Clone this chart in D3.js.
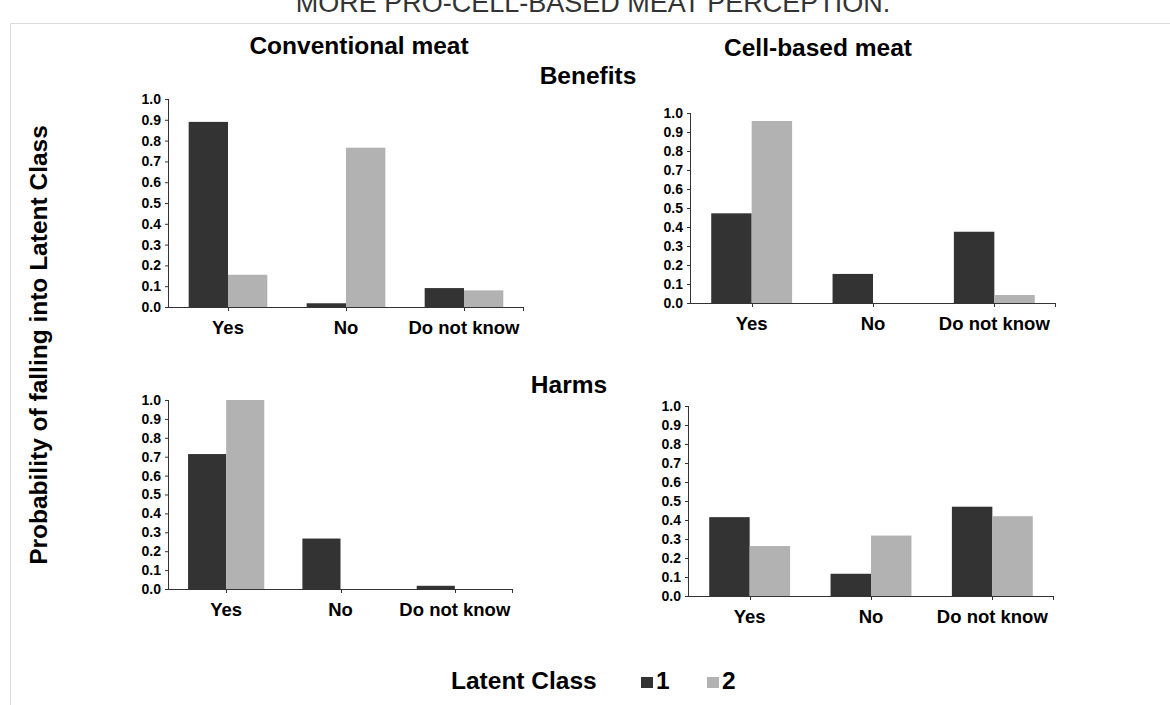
<!DOCTYPE html>
<html lang="en">
<head>
    <meta charset="UTF-8">
    <title>Latent class probabilities</title>
    <script src="https://d3js.org/d3.v7.min.js"></script>
    <style>
        body { margin: 0; background: #fff; }
        svg text { font-family: "Liberation Sans", Arial, sans-serif; }
    </style>
</head>
<body>
    <div id="chart-container"></div>

    <script>
        // data
        const categories = ["Yes", "No", "Do not know"];
        const classes = ["1", "2"];
        const yTicks = [0, 0.1, 0.2, 0.3, 0.4, 0.5, 0.6, 0.7, 0.8, 0.9, 1.0];

        const convBenefits1 = [0.89, 0.018, 0.091];
        const convBenefits2 = [0.155, 0.766, 0.08];
        const cellBenefits1 = [0.472, 0.153, 0.375];
        const cellBenefits2 = [0.958, 0, 0.042];
        const convHarms1 = [0.714, 0.267, 0.017];
        const convHarms2 = [1.0, 0, 0];
        const cellHarms1 = [0.415, 0.117, 0.47];
        const cellHarms2 = [0.263, 0.318, 0.42];

        const colors = { "1": "#333333", "2": "#b2b2b2" };

        const svg = d3.select("#chart-container")
            .append("svg")
            .attr("width", 1170)
            .attr("height", 705);

        // light frame
        svg.append("path")
            .attr("d", "M10.5,705 V23.5 H1170")
            .attr("fill", "none")
            .attr("stroke", "#dcdcdc");

        // caption, cut off at the top as in the source image
        svg.append("text")
            .attr("x", 593).attr("y", 12)
            .attr("text-anchor", "middle")
            .style("font-size", "27px")
            .style("fill", "#333")
            .text("MORE PRO-CELL-BASED MEAT PERCEPTION.");

        const titles = [
            { t: "Conventional meat", x: 359, y: 54 },
            { t: "Cell-based meat", x: 818, y: 56 },
            { t: "Benefits", x: 588, y: 84 },
            { t: "Harms", x: 569, y: 393 }
        ];
        titles.forEach(d => {
            svg.append("text")
                .attr("x", d.x).attr("y", d.y)
                .attr("text-anchor", "middle")
                .style("font-size", "24.5px")
                .style("font-weight", "bold")
                .style("fill", "#000")
                .text(d.t);
        });

        svg.append("text")
            .attr("transform", "translate(47,345) rotate(-90)")
            .attr("text-anchor", "middle")
            .style("font-size", "24.5px")
            .style("font-weight", "bold")
            .text("Probability of falling into Latent Class");

        const panels = [
            { s1: convBenefits1, s2: convBenefits2, x0: 169, x1: 523, top: 99, bottom: 307 },
            { s1: cellBenefits1, s2: cellBenefits2, x0: 691, x1: 1055, top: 113, bottom: 303 },
            { s1: convHarms1, s2: convHarms2, x0: 169, x1: 512, top: 400, bottom: 589 },
            { s1: cellHarms1, s2: cellHarms2, x0: 689, x1: 1053, top: 406, bottom: 596 }
        ];

        panels.forEach(drawPanel);

        function drawPanel(p) {
            const g = svg.append("g");

            const x = d3.scaleBand()
                .domain(categories)
                .range([p.x0, p.x1])
                .paddingInner(1 / 3)
                .paddingOuter(1 / 6);

            const xSub = d3.scaleBand()
                .domain(classes)
                .range([0, x.bandwidth()]);

            const y = d3.scaleLinear()
                .domain([0, 1])
                .range([p.bottom, p.top]);

            const rows = categories.map((c, i) => ({ cat: c, v: { "1": p.s1[i], "2": p.s2[i] } }));

            g.selectAll(".grp")
                .data(rows)
                .enter()
                .append("g")
                .attr("transform", d => `translate(${x(d.cat)},0)`)
                .selectAll("rect")
                .data(d => classes.map(k => ({ k: k, v: d.v[k] })))
                .enter()
                .append("rect")
                .attr("x", d => xSub(d.k))
                .attr("width", xSub.bandwidth())
                .attr("y", d => y(d.v))
                .attr("height", d => y(0) - y(d.v))
                .style("fill", d => colors[d.k]);

            // y axis
            const yAxis = g.append("g")
                .attr("transform", `translate(${p.x0},0)`)
                .call(d3.axisLeft(y).tickValues(yTicks).tickFormat(d3.format(".1f")).tickSize(4).tickPadding(4));
            yAxis.select(".domain").attr("d", `M-0.5,${p.top}V${p.bottom}`).attr("stroke", "#333");
            yAxis.selectAll(".tick line").attr("stroke", "#333");
            yAxis.selectAll("text")
                .style("font-size", "14px")
                .style("font-weight", "bold")
                .style("fill", "#000");

            // x axis: ticks at category centres and at the end
            const xa = g.append("g");
            xa.append("line")
                .attr("x1", p.x0).attr("x2", p.x1)
                .attr("y1", p.bottom + 0.5).attr("y2", p.bottom + 0.5)
                .attr("stroke", "#333");
            const tickXs = categories.map(c => x(c) + x.bandwidth() / 2).concat([p.x1]);
            xa.selectAll(".xt")
                .data(tickXs)
                .enter()
                .append("line")
                .attr("x1", d => Math.round(d) + 0.5).attr("x2", d => Math.round(d) + 0.5)
                .attr("y1", p.bottom).attr("y2", p.bottom + 4)
                .attr("stroke", "#333");
            xa.selectAll(".xl")
                .data(categories)
                .enter()
                .append("text")
                .attr("x", d => x(d) + x.bandwidth() / 2)
                .attr("y", p.bottom + 27)
                .attr("text-anchor", "middle")
                .style("font-size", "18.5px")
                .style("font-weight", "bold")
                .text(d => d);
        }

        // legend
        const legend = svg.append("g");
        legend.append("text")
            .attr("x", 451).attr("y", 689)
            .style("font-size", "24.5px")
            .style("font-weight", "bold")
            .text("Latent Class");
        const legX = d3.scalePoint().domain(classes).range([641, 707]);
        classes.forEach(k => {
            legend.append("rect")
                .attr("x", legX(k)).attr("y", 677)
                .attr("width", 12).attr("height", 11)
                .style("fill", colors[k]);
            legend.append("text")
                .attr("x", legX(k) + 15).attr("y", 689)
                .style("font-size", "24.5px")
                .style("font-weight", "bold")
                .text(k);
        });
    </script>
</body>
</html>
